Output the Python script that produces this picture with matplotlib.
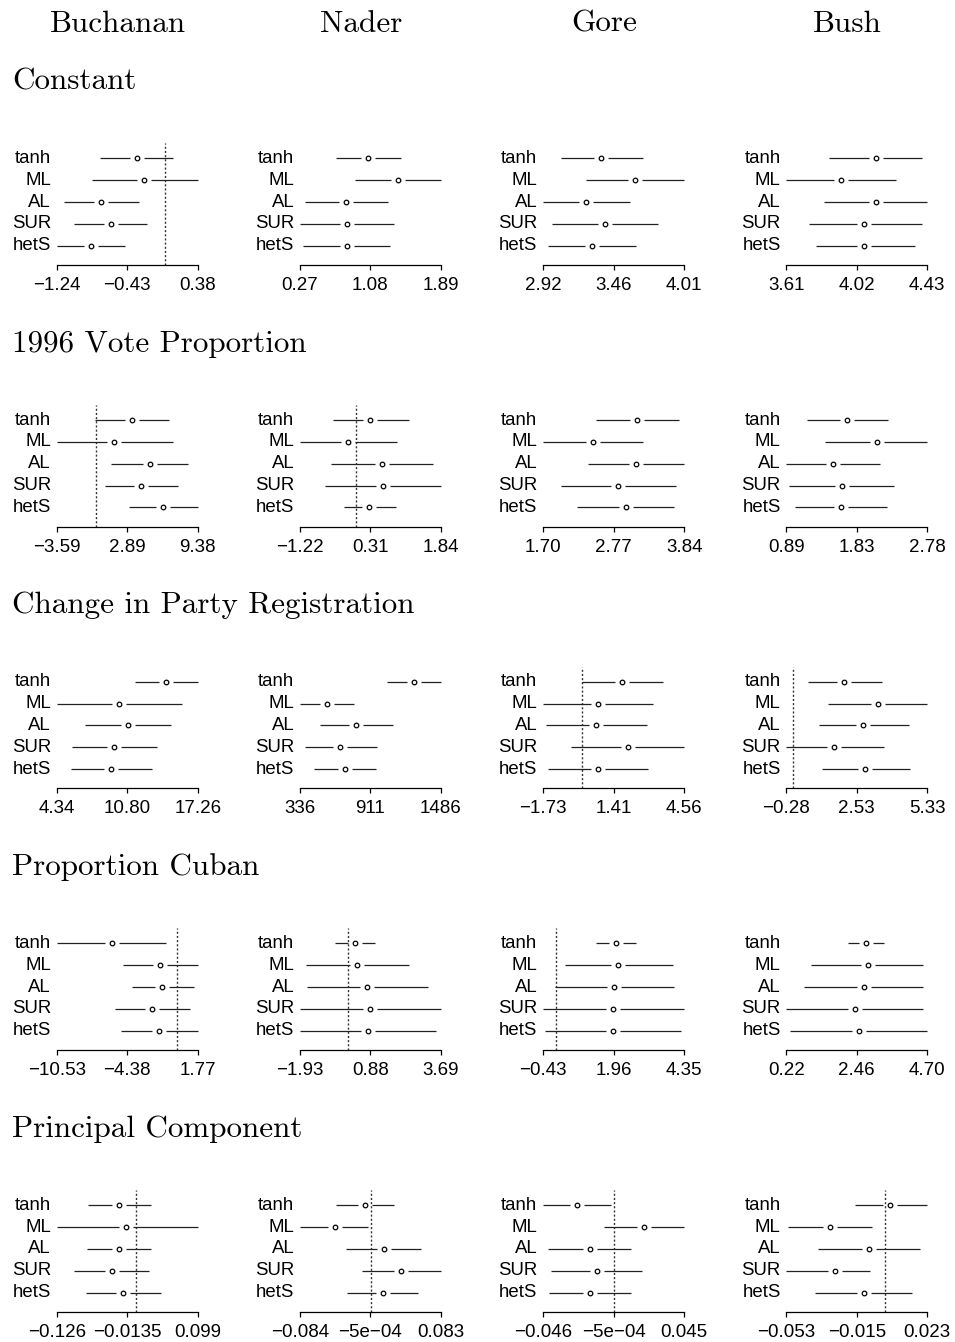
import numpy as np
import matplotlib.pyplot as plt
from matplotlib import transforms

candidates = ['Buchanan', 'Nader', 'Gore', 'Bush']
variables = ['Constant', '1996 Vote Proportion', 'Change in Party Registration',
             'Proportion Cuban', 'Principal Component']
methods = ['tanh', 'ML', 'AL', 'SUR', 'hetS']

# lower end, point estimate, upper end: one list per candidate, methods in order above
const_lo = [[-0.74, -0.84, -1.16, -1.04, -1.24],
            [0.68, 0.90, 0.33, 0.27, 0.31],
            [3.06, 3.25, 2.92, 2.99, 2.96],
            [3.86, 3.61, 3.83, 3.74, 3.78]]
const_est = [[-0.32, -0.24, -0.73, -0.62, -0.85],
             [1.05, 1.40, 0.80, 0.81, 0.81],
             [3.37, 3.63, 3.25, 3.40, 3.30],
             [4.13, 3.93, 4.13, 4.06, 4.06]]
const_hi = [[0.10, 0.38, -0.30, -0.20, -0.45],
            [1.43, 1.89, 1.28, 1.35, 1.31],
            [3.69, 4.01, 3.59, 3.81, 3.64],
            [4.40, 4.25, 4.43, 4.40, 4.36]]

vote_lo = [[-0.04, -3.59, 1.36, 0.81, 3.09],
           [-0.50, -1.22, -0.54, -0.68, -0.27],
           [2.50, 1.70, 2.38, 1.97, 2.22],
           [1.17, 1.41, 0.89, 0.93, 1.01]]
vote_est = [[3.30, 1.72, 4.98, 4.21, 6.19],
            [0.31, -0.18, 0.57, 0.58, 0.29],
            [3.13, 2.45, 3.11, 2.84, 2.96],
            [1.71, 2.10, 1.52, 1.63, 1.62]]
vote_hi = [[6.74, 7.10, 8.50, 7.59, 9.38],
           [1.14, 0.89, 1.66, 1.84, 0.87],
           [3.76, 3.21, 3.84, 3.72, 3.69],
           [2.25, 2.78, 2.15, 2.33, 2.24]]

reg_lo = [[11.51, 4.34, 6.97, 5.76, 5.64],
          [1048, 336, 498, 377, 452],
          [0.00, -1.73, -1.60, -0.47, -1.53],
          [0.58, 1.38, 1.01, -0.28, 1.15]]
reg_est = [[14.33, 10.02, 10.84, 9.63, 9.36],
           [1264, 558, 796, 666, 707],
           [1.78, 0.71, 0.62, 2.05, 0.70],
           [2.03, 3.35, 2.79, 1.63, 2.86]]
reg_hi = [[17.26, 15.84, 14.78, 13.57, 13.06],
          [1486, 777, 1099, 967, 958],
          [3.60, 3.18, 2.89, 4.56, 2.96],
          [3.52, 5.33, 4.62, 3.59, 4.64]]

cuban_lo = [[-10.53, -4.77, -3.99, -5.43, -4.91],
            [-0.54, -1.69, -1.64, -1.93, -1.93],
            [1.36, 0.30, -0.01, -0.43, -0.35],
            [2.18, 1.01, 0.78, 0.22, 0.33]]
cuban_est = [[-5.72, -1.51, -1.32, -2.18, -1.60],
             [0.28, 0.36, 0.74, 0.87, 0.78],
             [2.03, 2.12, 1.99, 1.95, 1.93],
             [2.75, 2.80, 2.68, 2.39, 2.52]]
cuban_hi = [[-0.97, 1.77, 1.42, 1.14, 1.77],
            [1.07, 2.43, 3.19, 3.69, 3.49],
            [2.71, 3.96, 4.00, 4.35, 4.24],
            [3.33, 4.57, 4.57, 4.57, 4.70]]

pc_lo = [[-0.076, -0.126, -0.077, -0.099, -0.080],
         [-0.041, -0.084, -0.029, -0.010, -0.028],
         [-0.046, -0.007, -0.043, -0.041, -0.042],
         [-0.016, -0.052, -0.036, -0.053, -0.0375]]
pc_est = [[-0.026, -0.015, -0.026, -0.038, -0.020],
          [-0.0074, -0.043, 0.0155, 0.036, 0.014],
          [-0.024, 0.019, -0.016, -0.011, -0.016],
          [0.003, -0.0295, -0.0086, -0.027, -0.011]]
pc_hi = [[0.024, 0.099, 0.025, 0.022, 0.040],
         [0.028, -0.003, 0.059, 0.083, 0.056],
         [-0.002, 0.045, 0.011, 0.018, 0.011],
         [0.023, -0.007, 0.019, -0.008, 0.015]]

# tick labels (min, mid, max of each panel)
const_ticks = [['−1.24', '−0.43', '0.38'], ['0.27', '1.08', '1.89'],
               ['2.92', '3.46', '4.01'], ['3.61', '4.02', '4.43']]
vote_ticks = [['−3.59', '2.89', '9.38'], ['−1.22', '0.31', '1.84'],
              ['1.70', '2.77', '3.84'], ['0.89', '1.83', '2.78']]
reg_ticks = [['4.34', '10.80', '17.26'], ['336', '911', '1486'],
             ['−1.73', '1.41', '4.56'], ['−0.28', '2.53', '5.33']]
cuban_ticks = [['−10.53', '−4.38', '1.77'], ['−1.93', '0.88', '3.69'],
               ['−0.43', '1.96', '4.35'], ['0.22', '2.46', '4.70']]
pc_ticks = [['−0.126', '−0.0135', '0.099'], ['−0.084', '−5e−04', '0.083'],
            ['−0.046', '−5e−04', '0.045'], ['−0.053', '−0.015', '0.023']]

rows = [(const_lo, const_est, const_hi, const_ticks),
        (vote_lo, vote_est, vote_hi, vote_ticks),
        (reg_lo, reg_est, reg_hi, reg_ticks),
        (cuban_lo, cuban_est, cuban_hi, cuban_ticks),
        (pc_lo, pc_est, pc_hi, pc_ticks)]

W, H = 955, 1342
fig = plt.figure(figsize=(W / 100, H / 100), dpi=100)
serif = 'cmr10'
sans = 'Liberation Sans'

# layout in pixels
col_step = 243.2
row_step = 261.7
tick_w = 141.0
ax_w = tick_w * 1.08
ax_h = 121.7

for c, name in enumerate(candidates):
    fig.text((118 + col_step * c) / W, 1 - 32 / H, name, family=serif,
             fontsize=22.4, ha='center', va='baseline')

for r, (lo_all, est_all, hi_all, tick_all) in enumerate(rows):
    fig.text(12 / W, 1 - (90 + row_step * r) / H, variables[r], family=serif,
             fontsize=22.4, ha='left', va='baseline')
    for c in range(4):
        lo = np.array(lo_all[c])
        est = np.array(est_all[c])
        hi = np.array(hi_all[c])
        xmin, xmax = lo.min(), hi.max()
        span = xmax - xmin

        left = 56.7 + col_step * c - 0.04 * tick_w
        bottom = 265 + row_step * r
        ax = fig.add_axes([left / W, 1 - bottom / H, ax_w / W, ax_h / H])
        ax.set_xlim(xmin - 0.04 * span, xmax + 0.04 * span)
        ax.set_ylim(0.117, 5.69)

        gap = 7.0 / tick_w * span
        ys = [5, 4, 3, 2, 1]
        if xmin < 0 < xmax:
            ax.axvline(0, color='#333333', lw=1.0, linestyle=(0, (1.5, 1.5)), zorder=1)
        for k in range(5):
            y = ys[k]
            ax.plot([lo[k], max(est[k] - gap, lo[k])], [y, y], color='#222222',
                    lw=0.9, solid_capstyle='butt', zorder=2)
            ax.plot([min(est[k] + gap, hi[k]), hi[k]], [y, y], color='#222222',
                    lw=0.9, solid_capstyle='butt', zorder=2)
            ax.plot(est[k], y, 'o', ms=3.3, mfc='white', mec='black', mew=0.9, zorder=3)
            ax.text(0, y, methods[k], family=sans, fontsize=13.4, ha='right', va='center',
                    transform=transforms.blended_transform_factory(ax.transAxes, ax.transData))

        for s in ['top', 'left', 'right']:
            ax.spines[s].set_visible(False)
        ax.spines['bottom'].set_bounds(xmin, xmax)
        ax.spines['bottom'].set_linewidth(0.9)
        ax.set_xticks([xmin, (xmin + xmax) / 2, xmax])
        ax.set_xticklabels(tick_all[c], family=sans, fontsize=13.5)
        ax.tick_params(axis='x', length=3.6, width=0.9, pad=5)
        ax.set_yticks([])
        ax.patch.set_visible(False)

fig.savefig('out.png', dpi=100)
